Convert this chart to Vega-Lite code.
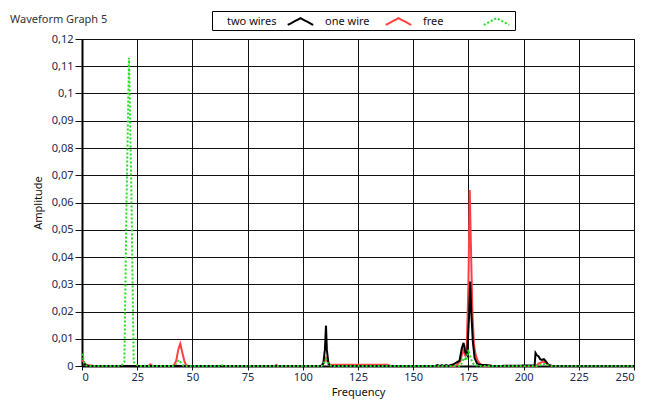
{
  "$schema": "https://vega.github.io/schema/vega-lite/v6.json",
  "width": 552,
  "height": 327,
  "autosize": {"type": "none"},
  "padding": {"left": 82, "top": 39, "right": 21, "bottom": 36},
  "background": "white",
  "config": {
    "locale": {"number": {"decimal": ",", "thousands": ".", "grouping": [3], "currency": ["", ""]}},
    "font": "Noto Sans",
    "view": {"stroke": "#111", "strokeWidth": 1},
    "axis": {
      "labelFont": "Noto Sans", "labelFontSize": 11, "labelColor": "#23294f",
      "titleFont": "Noto Sans", "titleFontSize": 11, "titleFontWeight": "normal", "titleColor": "#111",
      "gridColor": "#111", "gridWidth": 1, "gridOpacity": 1,
      "tickColor": "#111", "domainColor": "#000", "domainWidth": 2
    }
  },
  "title": {
    "text": "Waveform Graph 5",
    "anchor": "start", "frame": "group", "dx": -72, "offset": 0, "dy": 14,
    "fontSize": 11, "fontWeight": "normal", "color": "#333", "font": "Noto Sans"
  },
  "data": {
    "values": [
      {"series": "two wires", "f": 0, "a": 0.0012},
      {"series": "two wires", "f": 0.9, "a": 0.0008},
      {"series": "two wires", "f": 1.8, "a": 0.0003},
      {"series": "two wires", "f": 3, "a": 0},
      {"series": "two wires", "f": 108.5, "a": 0},
      {"series": "two wires", "f": 109.3, "a": 0.001},
      {"series": "two wires", "f": 110, "a": 0.006},
      {"series": "two wires", "f": 110.5, "a": 0.0148},
      {"series": "two wires", "f": 110.9, "a": 0.006},
      {"series": "two wires", "f": 111.6, "a": 0.001},
      {"series": "two wires", "f": 112.5, "a": 0},
      {"series": "two wires", "f": 160, "a": 0},
      {"series": "two wires", "f": 161, "a": 0.0003},
      {"series": "two wires", "f": 162, "a": 0},
      {"series": "two wires", "f": 163, "a": 0.0003},
      {"series": "two wires", "f": 164, "a": 0},
      {"series": "two wires", "f": 165, "a": 0.0003},
      {"series": "two wires", "f": 166, "a": 0},
      {"series": "two wires", "f": 167, "a": 0.0004},
      {"series": "two wires", "f": 168, "a": 0.0005},
      {"series": "two wires", "f": 169.5, "a": 0.0012},
      {"series": "two wires", "f": 171, "a": 0.002},
      {"series": "two wires", "f": 172, "a": 0.0065},
      {"series": "two wires", "f": 172.8, "a": 0.0085},
      {"series": "two wires", "f": 173.6, "a": 0.005},
      {"series": "two wires", "f": 174.4, "a": 0.004},
      {"series": "two wires", "f": 175.3, "a": 0.018},
      {"series": "two wires", "f": 175.8, "a": 0.031},
      {"series": "two wires", "f": 176.3, "a": 0.02},
      {"series": "two wires", "f": 177, "a": 0.009},
      {"series": "two wires", "f": 177.8, "a": 0.003},
      {"series": "two wires", "f": 179, "a": 0.0008},
      {"series": "two wires", "f": 181, "a": 0.0004},
      {"series": "two wires", "f": 184, "a": 0.0003},
      {"series": "two wires", "f": 186, "a": 0},
      {"series": "two wires", "f": 205, "a": 0.0002},
      {"series": "two wires", "f": 205.4, "a": 0.0048},
      {"series": "two wires", "f": 206, "a": 0.004},
      {"series": "two wires", "f": 206.8, "a": 0.0035},
      {"series": "two wires", "f": 207.5, "a": 0.0025},
      {"series": "two wires", "f": 208.3, "a": 0.0022},
      {"series": "two wires", "f": 209.2, "a": 0.0025},
      {"series": "two wires", "f": 210, "a": 0.0018},
      {"series": "two wires", "f": 211, "a": 0.0006},
      {"series": "two wires", "f": 212, "a": 0.0002},
      {"series": "two wires", "f": 213, "a": 0},
      {"series": "two wires", "f": 250, "a": 0},

      {"series": "one wire", "f": 0, "a": 0.002},
      {"series": "one wire", "f": 0.8, "a": 0.0015},
      {"series": "one wire", "f": 1.5, "a": 0.0008},
      {"series": "one wire", "f": 2.5, "a": 0.0003},
      {"series": "one wire", "f": 4, "a": 0.0002},
      {"series": "one wire", "f": 5, "a": 0},
      {"series": "one wire", "f": 30, "a": 0},
      {"series": "one wire", "f": 31, "a": 0.0006},
      {"series": "one wire", "f": 32, "a": 0},
      {"series": "one wire", "f": 41, "a": 0},
      {"series": "one wire", "f": 41.8, "a": 0.0005},
      {"series": "one wire", "f": 42.7, "a": 0.002},
      {"series": "one wire", "f": 43.6, "a": 0.006},
      {"series": "one wire", "f": 44.5, "a": 0.0082},
      {"series": "one wire", "f": 45.4, "a": 0.005},
      {"series": "one wire", "f": 46.3, "a": 0.002},
      {"series": "one wire", "f": 47, "a": 0.0005},
      {"series": "one wire", "f": 48, "a": 0},
      {"series": "one wire", "f": 87.5, "a": 0},
      {"series": "one wire", "f": 88, "a": 0.0004},
      {"series": "one wire", "f": 88.5, "a": 0},
      {"series": "one wire", "f": 108, "a": 0},
      {"series": "one wire", "f": 109.5, "a": 0.001},
      {"series": "one wire", "f": 110.5, "a": 0.003},
      {"series": "one wire", "f": 111.5, "a": 0.001},
      {"series": "one wire", "f": 112.5, "a": 0.0004},
      {"series": "one wire", "f": 115, "a": 0.0005},
      {"series": "one wire", "f": 125, "a": 0.0005},
      {"series": "one wire", "f": 138, "a": 0.0005},
      {"series": "one wire", "f": 139, "a": 0.0003},
      {"series": "one wire", "f": 140, "a": 0},
      {"series": "one wire", "f": 169, "a": 0},
      {"series": "one wire", "f": 170, "a": 0.0005},
      {"series": "one wire", "f": 171.5, "a": 0.002},
      {"series": "one wire", "f": 172.5, "a": 0.006},
      {"series": "one wire", "f": 173.5, "a": 0.004},
      {"series": "one wire", "f": 174.3, "a": 0.008},
      {"series": "one wire", "f": 175, "a": 0.03},
      {"series": "one wire", "f": 175.6, "a": 0.0646},
      {"series": "one wire", "f": 176.2, "a": 0.042},
      {"series": "one wire", "f": 176.8, "a": 0.02},
      {"series": "one wire", "f": 177.5, "a": 0.008},
      {"series": "one wire", "f": 178.3, "a": 0.004},
      {"series": "one wire", "f": 179.2, "a": 0.002},
      {"series": "one wire", "f": 180, "a": 0.001},
      {"series": "one wire", "f": 182, "a": 0},
      {"series": "one wire", "f": 205, "a": 0},
      {"series": "one wire", "f": 206, "a": 0.0003},
      {"series": "one wire", "f": 207, "a": 0.001},
      {"series": "one wire", "f": 208, "a": 0.0013},
      {"series": "one wire", "f": 209, "a": 0.0017},
      {"series": "one wire", "f": 210, "a": 0.0012},
      {"series": "one wire", "f": 211, "a": 0.0006},
      {"series": "one wire", "f": 212, "a": 0.0002},
      {"series": "one wire", "f": 213, "a": 0},
      {"series": "one wire", "f": 250, "a": 0},

      {"series": "free", "f": 0, "a": 0.0045},
      {"series": "free", "f": 0.5, "a": 0.003},
      {"series": "free", "f": 1, "a": 0.001},
      {"series": "free", "f": 2, "a": 0.0002},
      {"series": "free", "f": 4, "a": 0},
      {"series": "free", "f": 17, "a": 0},
      {"series": "free", "f": 18, "a": 0.0003},
      {"series": "free", "f": 19.2, "a": 0.0015},
      {"series": "free", "f": 20.2, "a": 0.062},
      {"series": "free", "f": 21.3, "a": 0.113},
      {"series": "free", "f": 22.4, "a": 0.062},
      {"series": "free", "f": 23.4, "a": 0.0015},
      {"series": "free", "f": 25, "a": 0.0003},
      {"series": "free", "f": 26, "a": 0},
      {"series": "free", "f": 42, "a": 0},
      {"series": "free", "f": 43, "a": 0.0015},
      {"series": "free", "f": 44, "a": 0.0022},
      {"series": "free", "f": 45, "a": 0.001},
      {"series": "free", "f": 46, "a": 0},
      {"series": "free", "f": 62, "a": 0},
      {"series": "free", "f": 63, "a": 0.0005},
      {"series": "free", "f": 64, "a": 0},
      {"series": "free", "f": 108.5, "a": 0},
      {"series": "free", "f": 109.5, "a": 0.001},
      {"series": "free", "f": 110.5, "a": 0.0025},
      {"series": "free", "f": 111.5, "a": 0.0008},
      {"series": "free", "f": 113, "a": 0},
      {"series": "free", "f": 171, "a": 0},
      {"series": "free", "f": 172, "a": 0.001},
      {"series": "free", "f": 173, "a": 0.003},
      {"series": "free", "f": 174, "a": 0.002},
      {"series": "free", "f": 175, "a": 0.006},
      {"series": "free", "f": 176, "a": 0.003},
      {"series": "free", "f": 177, "a": 0.001},
      {"series": "free", "f": 178, "a": 0.0003},
      {"series": "free", "f": 180, "a": 0},
      {"series": "free", "f": 207, "a": 0},
      {"series": "free", "f": 208.5, "a": 0.0008},
      {"series": "free", "f": 210, "a": 0.0006},
      {"series": "free", "f": 212, "a": 0},
      {"series": "free", "f": 250, "a": 0}
    ]
  },
  "encoding": {
    "x": {
      "field": "f", "type": "quantitative", "title": "Frequency",
      "scale": {"domain": [0, 250], "nice": false, "zero": false},
      "axis": {"values": [0, 25, 50, 75, 100, 125, 150, 175, 200, 225, 250], "tickSize": 4, "labelPadding": 1, "titlePadding": 4}
    },
    "y": {
      "field": "a", "type": "quantitative", "title": "Amplitude",
      "scale": {"domain": [0, 0.12], "nice": false},
      "axis": {"values": [0, 0.01, 0.02, 0.03, 0.04, 0.05, 0.06, 0.07, 0.08, 0.09, 0.1, 0.11, 0.12], "format": ".2~f", "tickSize": 7, "labelPadding": 2, "titlePadding": 8}
    },
    "color": {
      "field": "series", "type": "nominal",
      "scale": {"domain": ["two wires", "one wire", "free"], "range": ["#000000", "#ff4040", "#22dd22"]},
      "legend": {
        "title": " ", "titleOrient": "left", "titlePadding": 78, "titleFontSize": 11,
        "orient": "none", "direction": "horizontal",
        "legendX": 130, "legendY": -28,
        "strokeColor": "#000", "fillColor": "white", "padding": 1,
        "labelFontSize": 11, "labelColor": "#111", "labelFont": "Noto Sans",
        "labelAlign": "left", "labelOffset": -83,
        "symbolType": "M-1.5,0.4L0,-0.4L1.5,0.4", "symbolSize": 289, "symbolStrokeWidth": 2,
        "columnPadding": 7
      }
    },
    "strokeDash": {
      "field": "series", "type": "nominal",
      "scale": {"domain": ["two wires", "one wire", "free"], "range": [[1, 0], [1, 0], [2, 2]]},
      "legend": {
        "title": " ", "orient": "none", "direction": "horizontal",
        "legendX": 130, "legendY": -28
      }
    }
  },
  "layer": [
    {"transform": [{"filter": "datum.series === 'one wire'"}], "mark": {"type": "line", "strokeWidth": 2}},
    {"transform": [{"filter": "datum.series === 'two wires'"}], "mark": {"type": "line", "strokeWidth": 2}},
    {"transform": [{"filter": "datum.series === 'free'"}], "mark": {"type": "line", "strokeWidth": 2}}
  ]
}
